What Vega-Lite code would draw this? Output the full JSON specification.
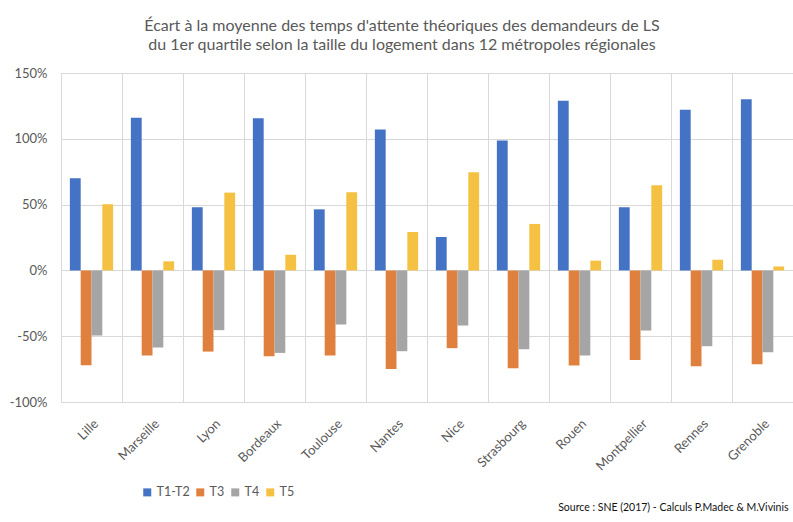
{
  "$schema": "https://vega.github.io/schema/vega-lite/v6.json",
  "width": 732,
  "height": 329,
  "autosize": {"type": "none"},
  "padding": {"left": 61, "top": 73, "right": 0, "bottom": 120},
  "background": "white",
  "title": {
    "text": ["Écart à la moyenne des temps d'attente théoriques des demandeurs de LS", "du 1er quartile selon la taille du logement dans 12 métropoles régionales"],
    "font": "Lato",
    "fontSize": 16,
    "fontWeight": "normal",
    "color": "#595959",
    "anchor": "middle",
    "dx": -25,
    "offset": 14,
    "lineHeight": 19
  },
  "data": {
    "values": [
      {"ville": "Lille", "taille": "T1-T2", "valeur": 70},
      {"ville": "Lille", "taille": "T3", "valeur": -72},
      {"ville": "Lille", "taille": "T4", "valeur": -49.5},
      {"ville": "Lille", "taille": "T5", "valeur": 50.3},
      {"ville": "Marseille", "taille": "T1-T2", "valeur": 116},
      {"ville": "Marseille", "taille": "T3", "valeur": -64.7},
      {"ville": "Marseille", "taille": "T4", "valeur": -58.6},
      {"ville": "Marseille", "taille": "T5", "valeur": 6.9},
      {"ville": "Lyon", "taille": "T1-T2", "valeur": 48},
      {"ville": "Lyon", "taille": "T3", "valeur": -61.7},
      {"ville": "Lyon", "taille": "T4", "valeur": -45.4},
      {"ville": "Lyon", "taille": "T5", "valeur": 59.1},
      {"ville": "Bordeaux", "taille": "T1-T2", "valeur": 115.7},
      {"ville": "Bordeaux", "taille": "T3", "valeur": -65.2},
      {"ville": "Bordeaux", "taille": "T4", "valeur": -62.7},
      {"ville": "Bordeaux", "taille": "T5", "valeur": 11.9},
      {"ville": "Toulouse", "taille": "T1-T2", "valeur": 46.4},
      {"ville": "Toulouse", "taille": "T3", "valeur": -64.7},
      {"ville": "Toulouse", "taille": "T4", "valeur": -41.1},
      {"ville": "Toulouse", "taille": "T5", "valeur": 59.4},
      {"ville": "Nantes", "taille": "T1-T2", "valeur": 107.1},
      {"ville": "Nantes", "taille": "T3", "valeur": -74.9},
      {"ville": "Nantes", "taille": "T4", "valeur": -61.4},
      {"ville": "Nantes", "taille": "T5", "valeur": 29.2},
      {"ville": "Nice", "taille": "T1-T2", "valeur": 25.4},
      {"ville": "Nice", "taille": "T3", "valeur": -59.1},
      {"ville": "Nice", "taille": "T4", "valeur": -41.9},
      {"ville": "Nice", "taille": "T5", "valeur": 74.6},
      {"ville": "Strasbourg", "taille": "T1-T2", "valeur": 98.7},
      {"ville": "Strasbourg", "taille": "T3", "valeur": -74.4},
      {"ville": "Strasbourg", "taille": "T4", "valeur": -59.9},
      {"ville": "Strasbourg", "taille": "T5", "valeur": 35.3},
      {"ville": "Rouen", "taille": "T1-T2", "valeur": 128.9},
      {"ville": "Rouen", "taille": "T3", "valeur": -72.3},
      {"ville": "Rouen", "taille": "T4", "valeur": -64.7},
      {"ville": "Rouen", "taille": "T5", "valeur": 7.4},
      {"ville": "Montpellier", "taille": "T1-T2", "valeur": 48},
      {"ville": "Montpellier", "taille": "T3", "valeur": -68},
      {"ville": "Montpellier", "taille": "T4", "valeur": -45.7},
      {"ville": "Montpellier", "taille": "T5", "valeur": 64.7},
      {"ville": "Rennes", "taille": "T1-T2", "valeur": 122},
      {"ville": "Rennes", "taille": "T3", "valeur": -72.8},
      {"ville": "Rennes", "taille": "T4", "valeur": -57.6},
      {"ville": "Rennes", "taille": "T5", "valeur": 8.1},
      {"ville": "Grenoble", "taille": "T1-T2", "valeur": 130},
      {"ville": "Grenoble", "taille": "T3", "valeur": -71.3},
      {"ville": "Grenoble", "taille": "T4", "valeur": -62.2},
      {"ville": "Grenoble", "taille": "T5", "valeur": 3.0}
    ]
  },
  "mark": {"type": "bar"},
  "encoding": {
    "x": {
      "field": "ville",
      "type": "nominal",
      "sort": ["Lille", "Marseille", "Lyon", "Bordeaux", "Toulouse", "Nantes", "Nice", "Strasbourg", "Rouen", "Montpellier", "Rennes", "Grenoble"],
      "scale": {"paddingInner": 0, "paddingOuter": 0},
      "axis": {
        "title": "Source : SNE (2017) - Calculs P.Madec & M.Vivinis",
        "titleFont": "Lato",
        "titleFontSize": 10.5,
        "titleFontWeight": "normal",
        "titleColor": "#111111",
        "titleAnchor": "end",
        "titleAlign": "right",
        "titleX": 727,
        "titleY": 105,
        "titleBaseline": "middle",
        "labelAngle": -45,
        "labelFont": "Lato",
        "labelFontSize": 13,
        "labelColor": "#595959",
        "labelPadding": 15,
        "ticks": false,
        "domain": false,
        "grid": true,
        "tickBand": "extent",
        "gridColor": "#d9d9d9",
        "gridWidth": 1
      }
    },
    "xOffset": {
      "field": "taille",
      "type": "nominal",
      "sort": ["T1-T2", "T3", "T4", "T5"],
      "scale": {"paddingInner": 0, "paddingOuter": 0.82}
    },
    "y": {
      "field": "valeur",
      "type": "quantitative",
      "scale": {"domain": [-100, 150], "nice": false},
      "axis": {
        "title": null,
        "values": [-100, -50, 0, 50, 100, 150],
        "labelExpr": "datum.value + '%'",
        "labelFont": "Lato",
        "labelFontSize": 13,
        "labelColor": "#595959",
        "labelPadding": 14,
        "ticks": false,
        "domain": false,
        "grid": true,
        "gridColor": "#d9d9d9",
        "gridWidth": 1
      }
    },
    "color": {
      "field": "taille",
      "type": "nominal",
      "sort": ["T1-T2", "T3", "T4", "T5"],
      "scale": {"domain": ["T1-T2", "T3", "T4", "T5"], "range": ["#4472C4", "#E0803F", "#A5A5A5", "#F5C142"]},
      "legend": {
        "title": null,
        "orient": "none",
        "direction": "horizontal",
        "legendX": 80,
        "legendY": 413,
        "symbolType": "square",
        "symbolSize": 64,
        "symbolStrokeWidth": 0,
        "labelFont": "Lato",
        "labelFontSize": 12.5,
        "labelColor": "#595959",
        "labelOffset": 3,
        "columnPadding": 4
      }
    }
  },
  "config": {
    "view": {"stroke": null}
  }
}
